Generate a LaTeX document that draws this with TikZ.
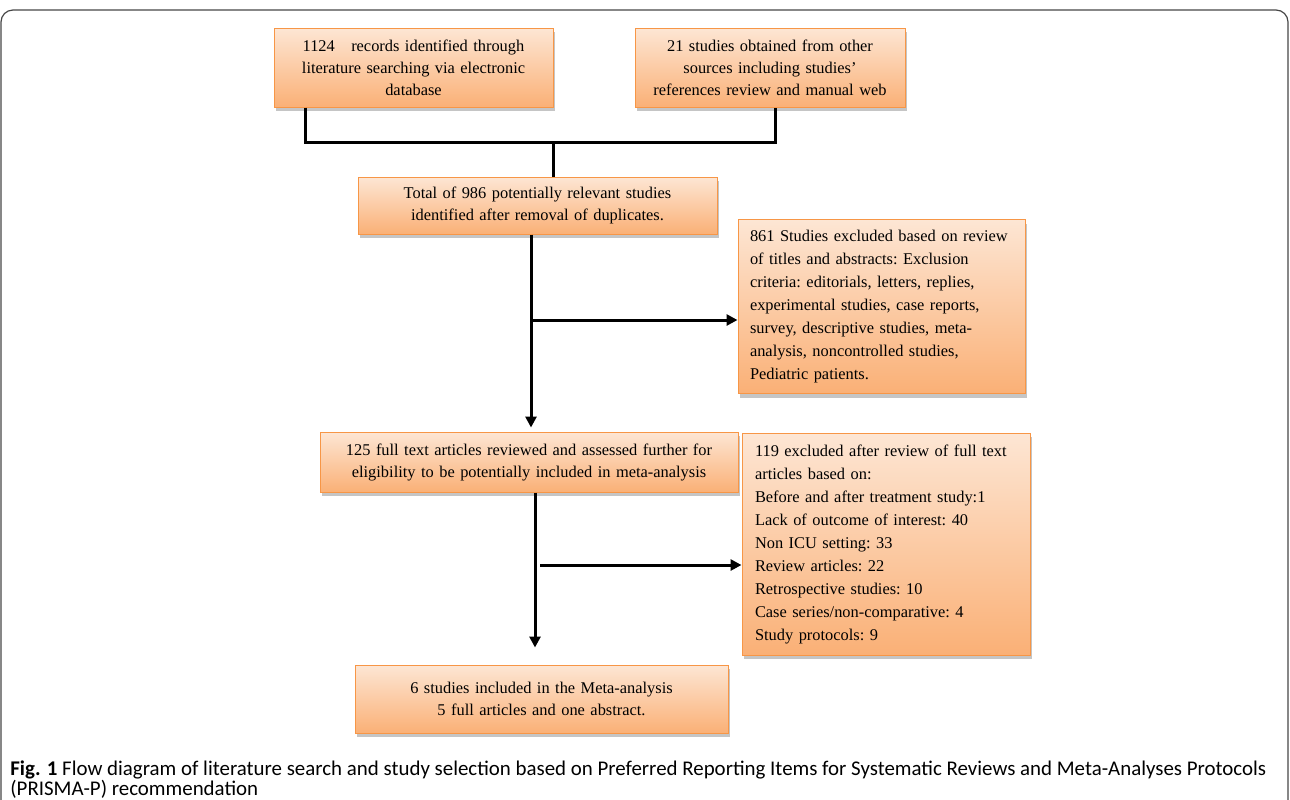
\documentclass[tikz,border=0pt]{standalone}
\usepackage{fontspec}
\setmainfont{Liberation Serif}
\newfontfamily\captionfont{Carlito}
\newcommand\figcaptionfont{\captionfont\fontsize{10.45}{9.6}\selectfont\lineskiplimit=-6pt\relax}
\usetikzlibrary{arrows.meta, positioning, shadows}
\definecolor{boxtop}{RGB}{253, 230, 212}
\definecolor{boxbottom}{RGB}{250, 176, 118}
\definecolor{boxborder}{RGB}{247, 150, 70}
\definecolor{framecolor}{RGB}{70, 70, 70}
\tikzset{
    prismabox/.style={draw=boxborder, line width=0.5pt, top color=boxtop, bottom color=boxbottom,
        drop shadow={shadow xshift=0.8pt, shadow yshift=-2.2pt, fill=black!45},
        inner sep=0pt, align=center, font=\fontsize{8.2}{11}\selectfont\frenchspacing},
    listbox/.style={prismabox, align=left, inner xsep=4.75pt, font=\fontsize{8.2}{11.5}\selectfont\frenchspacing},
    flowline/.style={line width=1.5pt, black},
    flowarrow/.style={flowline, -{Triangle[length=5.5pt, width=5.5pt]}}
}

\begin{document}
\begin{tikzpicture}[x=0.5pt, y=-0.5pt]
    \useasboundingbox (0,0) rectangle (1290,799);
    \clip (0,0) rectangle (1290,799);
    \draw[framecolor, line width=0.6pt, rounded corners=6pt] (1,10) rectangle (1288,850);

    \node[prismabox, minimum width=139.5pt, minimum height=39.5pt, text width=130pt] (records) at (413.5,67.5)
        {1124~~ records identified through\\ literature searching via electronic\\ database};
    \node[prismabox, minimum width=135pt, minimum height=39.5pt, text width=128pt] (others) at (770,67.5)
        {21 studies obtained from other\\ sources including studies'\\ references review and manual web};
    \node[prismabox, minimum width=179.5pt, minimum height=28.5pt, text width=170pt] (total) at (537.5,205.5)
        {Total of 986 potentially relevant studies\\ identified after removal of duplicates.};
    \node[listbox, minimum width=143.5pt, minimum height=87pt, text width=134pt] (excl1) at (881.5,306.5)
        {\hspace*{1.25pt}861 Studies excluded based on review\\ \hspace*{1.25pt}of titles and abstracts: Exclusion\\ \hspace*{1.25pt}criteria: editorials, letters, replies,\\ \hspace*{1.25pt}experimental studies, case reports,\\ \hspace*{1.25pt}survey, descriptive studies, meta-\\ \hspace*{1.25pt}analysis, noncontrolled studies,\\ \hspace*{1.25pt}Pediatric patients.};
    \node[prismabox, minimum width=209pt, minimum height=30pt, text width=200pt] (fulltext) at (529,462)
        {125 full text articles reviewed and assessed further for\\ eligibility to be potentially included in meta-analysis};
    \node[listbox, minimum width=144pt, minimum height=111pt, text width=131pt, inner xsep=6.5pt] (excl2) at (886,544)
        {119 excluded after review of full text\\ articles based on:\\ Before and after treatment study:1\\ Lack of outcome of interest: 40\\ Non ICU setting: 33\\ Review articles: 22\\ Retrospective studies: 10\\ Case series/non-comparative: 4\\ Study protocols: 9};
    \node[prismabox, minimum width=186.5pt, minimum height=34pt, text width=178pt] (included) at (541.5,699)
        {6 studies included in the Meta-analysis\\ 5 full articles and one abstract.};

    \coordinate (leftdrop) at (305,142);
    \coordinate (rightdrop) at (775,142);
    \coordinate (join) at (553,142);
    \draw[flowline] (records.south -| leftdrop) -- (leftdrop) -- (rightdrop) -- (others.south -| rightdrop);
    \draw[flowline] (join) -- (total.north -| join);

    \coordinate (split1) at (531,320);
    \draw[flowarrow, shorten >=2pt] (total.south -| split1) -- (fulltext.north -| split1);
    \draw[flowarrow] (split1) -- (split1 -| excl1.west);

    \coordinate (split2) at (535,565);
    \draw[flowarrow, shorten >=8.5pt] (fulltext.south -| split2) -- (included.north -| split2);
    \draw[flowarrow, shorten <=2.5pt] (split2) -- (split2 -| excl2.west);

    \node[anchor=base west, inner sep=0pt, align=left, font=\figcaptionfont] (caption) at (10,795)
        {\textbf{Fig. 1} Flow diagram of literature search and study selection based on Preferred Reporting Items for Systematic Reviews and Meta-Analyses Protocols\\
        (PRISMA-P) recommendation};
\end{tikzpicture}
\end{document}
